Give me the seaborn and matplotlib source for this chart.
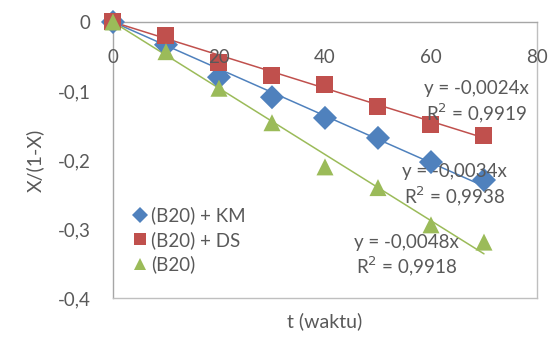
import numpy as np
import pandas as pd
import matplotlib
matplotlib.use("Agg")
import matplotlib.pyplot as plt
import seaborn as sns
from matplotlib.ticker import FuncFormatter

# data
t = [0, 10, 20, 30, 40, 50, 60, 70]
km = [0, -0.033, -0.080, -0.109, -0.139, -0.168, -0.203, -0.229]
ds = [0, -0.019, -0.059, -0.078, -0.091, -0.123, -0.148, -0.164]
b20 = [0, -0.043, -0.096, -0.146, -0.210, -0.240, -0.294, -0.319]
series_names = ["(B20) + KM", "(B20) + DS", "(B20)"]
slopes = [-0.0034, -0.0024, -0.0048]
r2 = [0.9938, 0.9919, 0.9918]

colors = {"(B20) + KM": "#4F81BD", "(B20) + DS": "#C0504D", "(B20)": "#9BBB59"}
markers = {"(B20) + KM": "D", "(B20) + DS": "s", "(B20)": "^"}
grey = "#595959"

df = pd.DataFrame({
    "t": t * 3,
    "y": km + ds + b20,
    "series": np.repeat(series_names, len(t)),
})

sns.set_style("white")
plt.rcParams["font.family"] = ["Lato", "DejaVu Sans"]

fig = plt.figure(figsize=(5.56, 3.43), dpi=100)
ax = fig.add_axes([0.2032, 0.1312, 0.7626, 0.8047])

# trendlines through origin
for name, k in zip(series_names, slopes):
    xs = np.array([0, 70])
    ax.plot(xs, k * xs, color=colors[name], lw=1.1, zorder=2)

sns.scatterplot(data=df, x="t", y="y", hue="series", style="series",
                palette=colors, markers=markers, s=150, linewidth=0,
                ax=ax, zorder=3)
for coll in ax.collections:
    coll.set_clip_on(False)

ax.set_xlim(0, 80)
ax.set_ylim(-0.4, 0)
ax.set_xticks([0, 20, 40, 60, 80])
ax.set_yticks([0, -0.1, -0.2, -0.3, -0.4])
ax.xaxis.set_major_formatter(FuncFormatter(lambda v, p: f"{v:.0f}"))
ax.yaxis.set_major_formatter(FuncFormatter(lambda v, p: "0" if abs(v) < 1e-9 else f"{v:.1f}".replace(".", ",")))
ax.xaxis.tick_top()
ax.tick_params(axis="x", length=0, pad=-32, labelsize=13.5, labelcolor=grey)
ax.tick_params(axis="y", length=0, pad=16, labelsize=13.5, labelcolor=grey)
ax.xaxis.set_zorder(5)

for sp in ax.spines.values():
    sp.set_color("#BFBFBF")
    sp.set_linewidth(1.0)
ax.spines["left"].set_color("#A6A6A6")
ax.spines["top"].set_color("#A6A6A6")

ax.set_xlabel("t (waktu)", fontsize=14, color=grey, labelpad=10)
ax.set_ylabel("X/(1-X)", fontsize=14, color=grey, labelpad=10)
ax.xaxis.set_label_position("bottom")

# trendline equations
eq_pos = {"(B20) + DS": (68.5, -0.097), "(B20) + KM": (64.5, -0.217), "(B20)": (55.4, -0.319)}
for name, k, r in zip(series_names, slopes, r2):
    x0, y0 = eq_pos[name]
    ax.text(x0, y0, f"y = {k:.4f}x".replace(".", ","), ha="center", va="center",
            fontsize=13.5, color=grey, zorder=4)
    ax.text(x0, y0 - 0.035, f"R$^2$ = {r:.4f}".replace(".", ","), ha="center", va="center",
            fontsize=13.5, color=grey, zorder=4)

handles, labels = ax.get_legend_handles_labels()
ax.legend(handles, labels, loc="center left", bbox_to_anchor=(0.02, 0.21),
          frameon=False, fontsize=13.5, labelcolor=grey, handletextpad=0.0,
          handlelength=1.2, labelspacing=0.35, markerscale=0.7, borderaxespad=0)

fig.savefig("out.png", dpi=100)
